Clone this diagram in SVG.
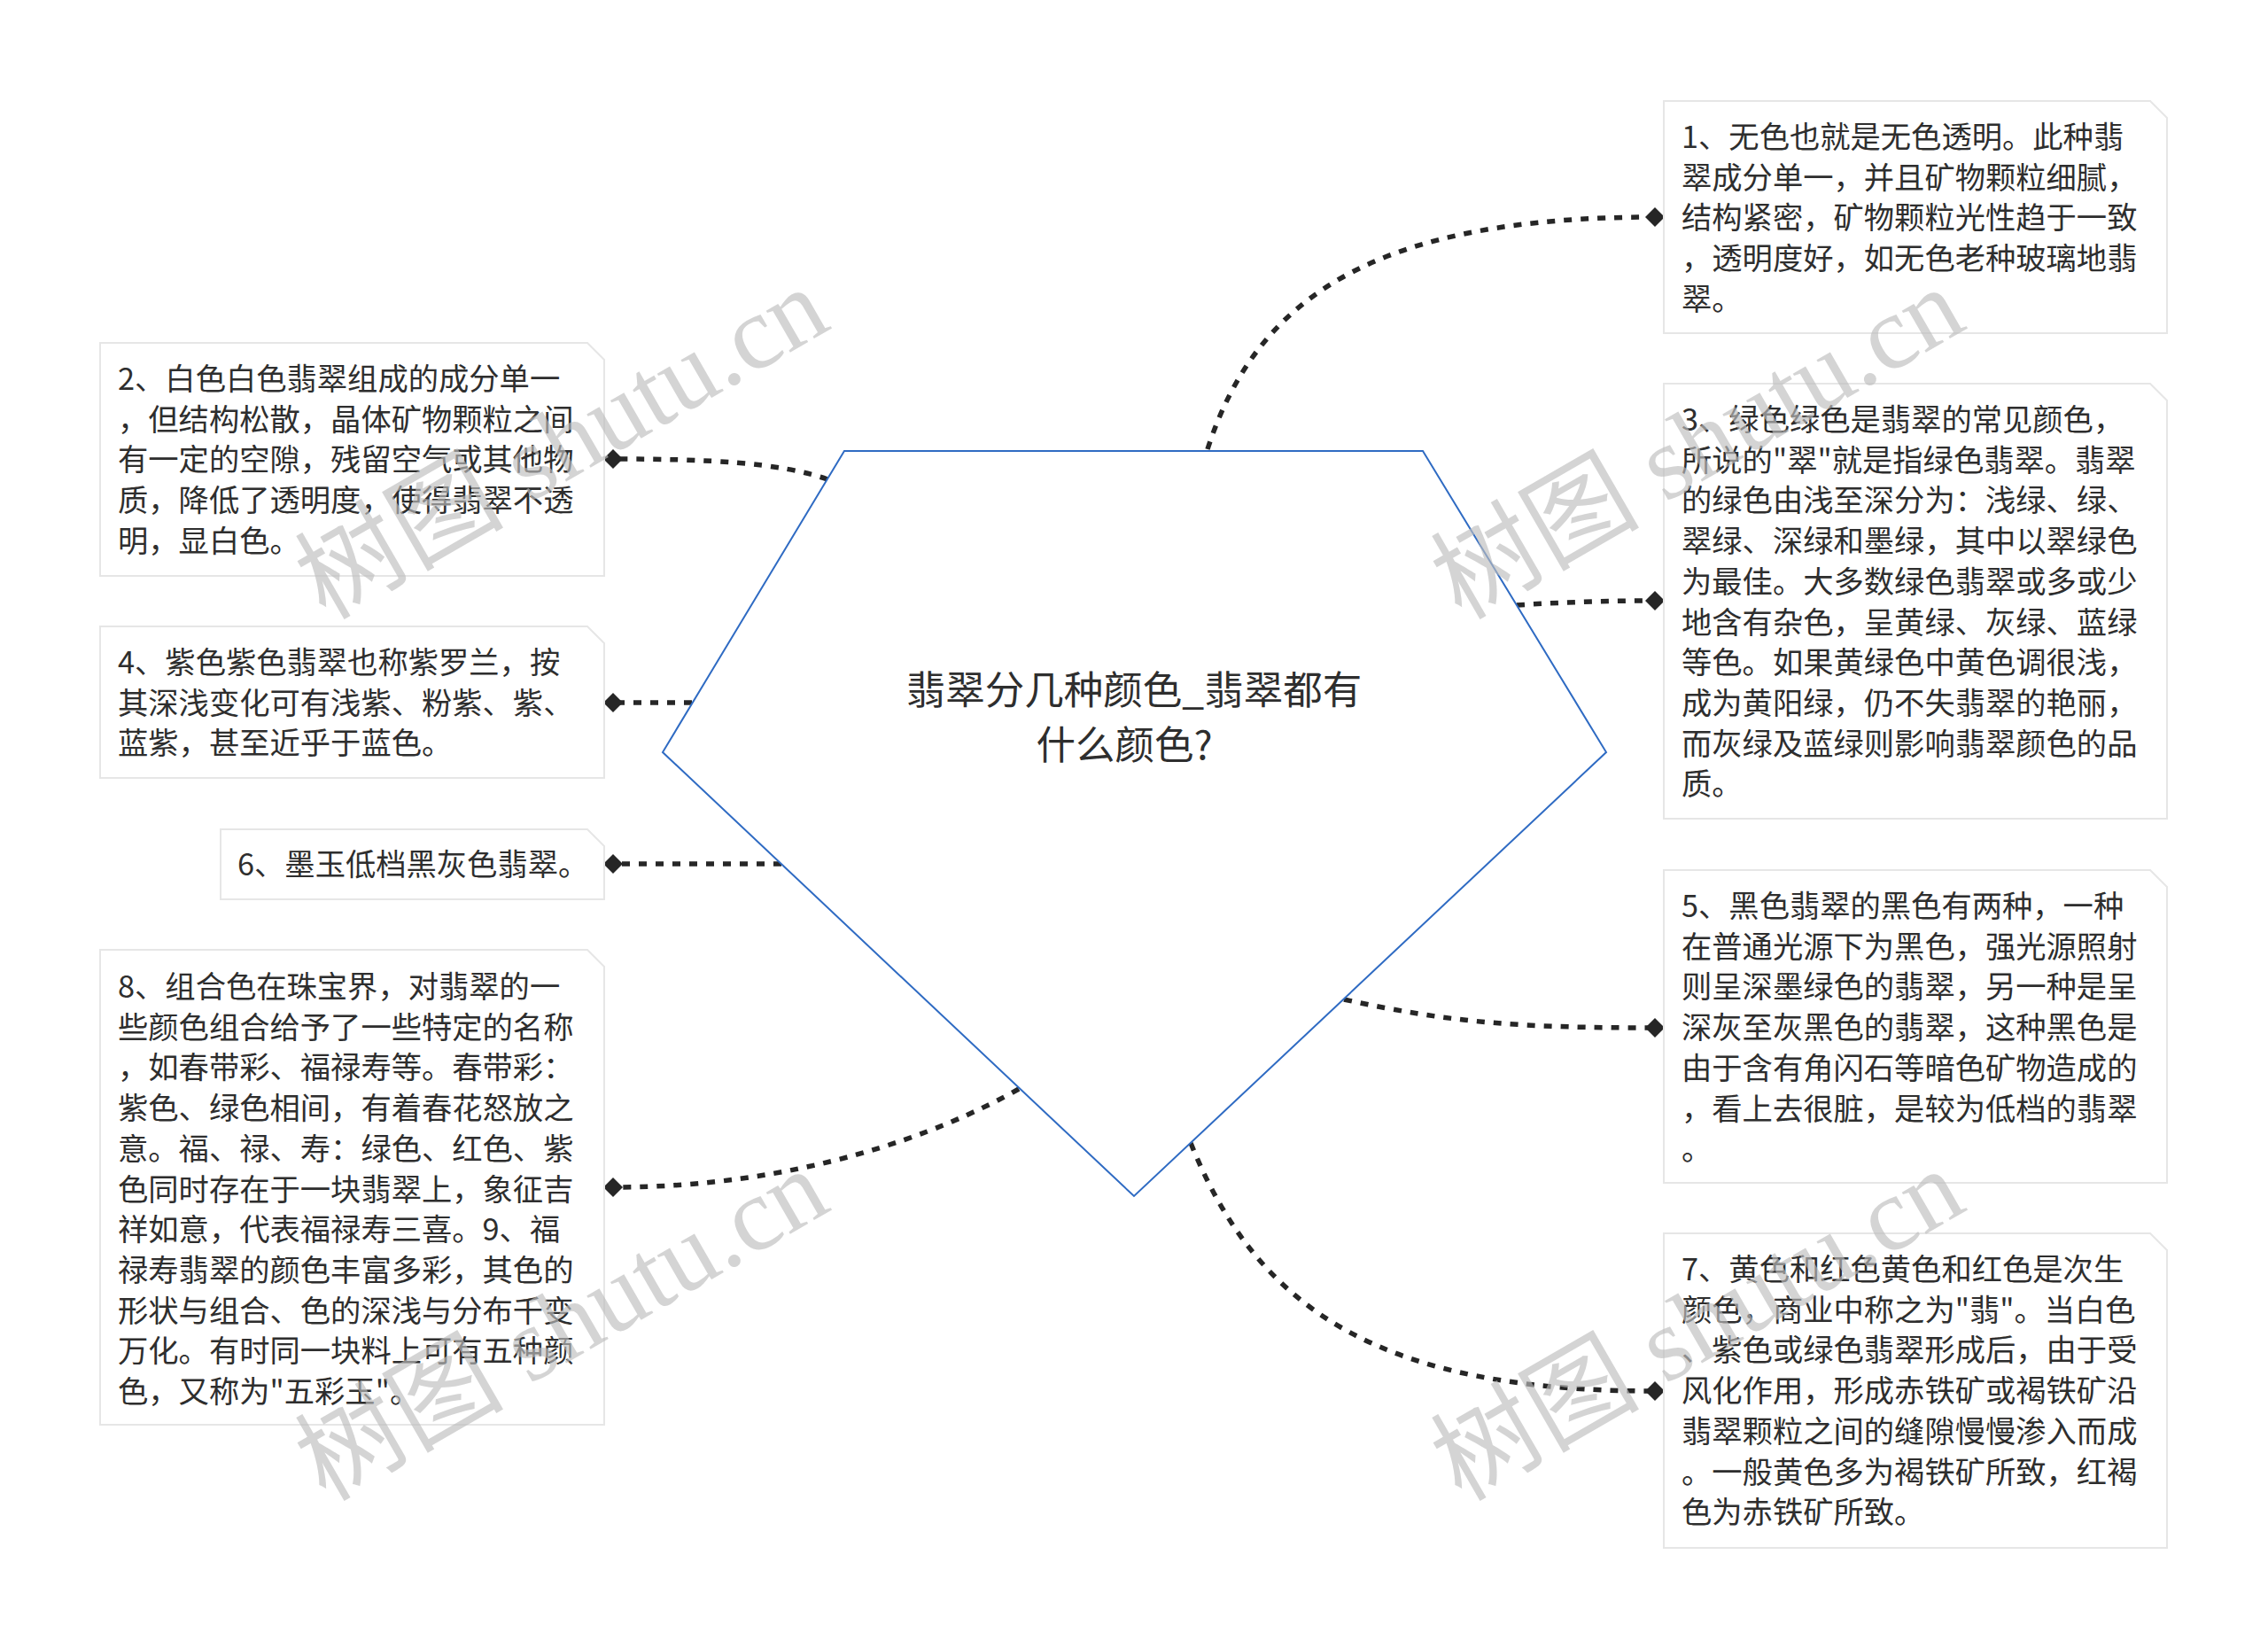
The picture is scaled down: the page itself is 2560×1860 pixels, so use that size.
<svg xmlns="http://www.w3.org/2000/svg" width="2560" height="1860" viewBox="0 0 2560 1860">
<style>
.box{fill:#ffffff;stroke:#e6e6e6;stroke-width:2}
.txt{font-family:"Noto Sans CJK SC","Microsoft YaHei",sans-serif;font-size:34.3px;fill:#2e2e2e}
.ctr{font-family:"Noto Sans CJK SC","Microsoft YaHei",sans-serif;font-size:44.5px;fill:#2e2e2e}
.con{fill:none;stroke:#262626;stroke-width:5.5;stroke-dasharray:9 10;marker-end:url(#dia)}
.wm{font-family:"Liberation Serif","Noto Sans CJK SC",serif;font-size:118px;fill:#bdbdbd;fill-opacity:0.65}
</style>
<defs>
<marker id="dia" viewBox="0 0 22 22" refX="11" refY="11" markerWidth="22" markerHeight="22" markerUnits="userSpaceOnUse">
<path d="M11,0 L22,11 L11,22 L0,11 Z" fill="#262626"/>
</marker>
</defs>
<rect width="2560" height="1860" fill="#ffffff"/>
<g id="connectors">
<path class="con" d="M1363,507 C1420,330 1560,245 1868,245"/>
<path class="con" d="M1712,683 Q1790,678 1868,678"/>
<path class="con" d="M1517,1128 C1640,1155 1720,1160 1868,1160"/>
<path class="con" d="M1344,1290 C1420,1480 1560,1570 1868,1570"/>
<path class="con" d="M934,541 C880,522 800,518 692,518"/>
<path class="con" d="M781,793 L692,793"/>
<path class="con" d="M882,975 L692,975"/>
<path class="con" d="M1150,1229 C1060,1280 900,1340 692,1340"/>
</g>
<g id="center">
<polygon points="953,509 1606,509 1813,849 1280,1350 748,849" fill="#ffffff" stroke="#2f6bc3" stroke-width="2"/>
<text class="ctr" text-anchor="middle"><tspan x="1280" y="795">翡翠分几种颜色_翡翠都有</tspan><tspan x="1269" y="857">什么颜色?</tspan></text>
</g>
<g id="n1">
<path class="box" d="M1878,114 H2427 L2446,133 V376 H1878 Z"/>
<text class="txt" x="1898" y="167"><tspan x="1898">1、无色也就是无色透明。此种翡</tspan><tspan x="1898" dy="45.7">翠成分单一，并且矿物颗粒细腻，</tspan><tspan x="1898" dy="45.7">结构紧密，矿物颗粒光性趋于一致</tspan><tspan x="1898" dy="45.7">，透明度好，如无色老种玻璃地翡</tspan><tspan x="1898" dy="45.7">翠。</tspan></text>
</g>
<g id="n2">
<path class="box" d="M113,387 H663 L682,406 V650 H113 Z"/>
<text class="txt" x="133" y="440"><tspan x="133">2、白色白色翡翠组成的成分单一</tspan><tspan x="133" dy="45.7">，但结构松散，晶体矿物颗粒之间</tspan><tspan x="133" dy="45.7">有一定的空隙，残留空气或其他物</tspan><tspan x="133" dy="45.7">质，降低了透明度，使得翡翠不透</tspan><tspan x="133" dy="45.7">明，显白色。</tspan></text>
</g>
<g id="n3">
<path class="box" d="M1878,433 H2427 L2446,452 V924 H1878 Z"/>
<text class="txt" x="1898" y="486"><tspan x="1898">3、绿色绿色是翡翠的常见颜色，</tspan><tspan x="1898" dy="45.7">所说的"翠"就是指绿色翡翠。翡翠</tspan><tspan x="1898" dy="45.7">的绿色由浅至深分为：浅绿、绿、</tspan><tspan x="1898" dy="45.7">翠绿、深绿和墨绿，其中以翠绿色</tspan><tspan x="1898" dy="45.7">为最佳。大多数绿色翡翠或多或少</tspan><tspan x="1898" dy="45.7">地含有杂色，呈黄绿、灰绿、蓝绿</tspan><tspan x="1898" dy="45.7">等色。如果黄绿色中黄色调很浅，</tspan><tspan x="1898" dy="45.7">成为黄阳绿，仍不失翡翠的艳丽，</tspan><tspan x="1898" dy="45.7">而灰绿及蓝绿则影响翡翠颜色的品</tspan><tspan x="1898" dy="45.7">质。</tspan></text>
</g>
<g id="n4">
<path class="box" d="M113,707 H663 L682,726 V878 H113 Z"/>
<text class="txt" x="133" y="760"><tspan x="133">4、紫色紫色翡翠也称紫罗兰，按</tspan><tspan x="133" dy="45.7">其深浅变化可有浅紫、粉紫、紫、</tspan><tspan x="133" dy="45.7">蓝紫，甚至近乎于蓝色。</tspan></text>
</g>
<g id="n5">
<path class="box" d="M1878,982 H2427 L2446,1001 V1335 H1878 Z"/>
<text class="txt" x="1898" y="1035"><tspan x="1898">5、黑色翡翠的黑色有两种，一种</tspan><tspan x="1898" dy="45.7">在普通光源下为黑色，强光源照射</tspan><tspan x="1898" dy="45.7">则呈深墨绿色的翡翠，另一种是呈</tspan><tspan x="1898" dy="45.7">深灰至灰黑色的翡翠，这种黑色是</tspan><tspan x="1898" dy="45.7">由于含有角闪石等暗色矿物造成的</tspan><tspan x="1898" dy="45.7">，看上去很脏，是较为低档的翡翠</tspan><tspan x="1898" dy="45.7">。</tspan></text>
</g>
<g id="n6">
<path class="box" d="M249,936 H663 L682,955 V1015 H249 Z"/>
<text class="txt" x="268" y="988">6、墨玉低档黑灰色翡翠。</text>
</g>
<g id="n7">
<path class="box" d="M1878,1392 H2427 L2446,1411 V1747 H1878 Z"/>
<text class="txt" x="1898" y="1445"><tspan x="1898">7、黄色和红色黄色和红色是次生</tspan><tspan x="1898" dy="45.7">颜色，商业中称之为"翡"。当白色</tspan><tspan x="1898" dy="45.7">、紫色或绿色翡翠形成后，由于受</tspan><tspan x="1898" dy="45.7">风化作用，形成赤铁矿或褐铁矿沿</tspan><tspan x="1898" dy="45.7">翡翠颗粒之间的缝隙慢慢渗入而成</tspan><tspan x="1898" dy="45.7">。一般黄色多为褐铁矿所致，红褐</tspan><tspan x="1898" dy="45.7">色为赤铁矿所致。</tspan></text>
</g>
<g id="n8">
<path class="box" d="M113,1072 H663 L682,1091 V1608 H113 Z"/>
<text class="txt" x="133" y="1126"><tspan x="133">8、组合色在珠宝界，对翡翠的一</tspan><tspan x="133" dy="45.7">些颜色组合给予了一些特定的名称</tspan><tspan x="133" dy="45.7">，如春带彩、福禄寿等。春带彩：</tspan><tspan x="133" dy="45.7">紫色、绿色相间，有着春花怒放之</tspan><tspan x="133" dy="45.7">意。福、禄、寿：绿色、红色、紫</tspan><tspan x="133" dy="45.7">色同时存在于一块翡翠上，象征吉</tspan><tspan x="133" dy="45.7">祥如意，代表福禄寿三喜。9、福</tspan><tspan x="133" dy="45.7">禄寿翡翠的颜色丰富多彩，其色的</tspan><tspan x="133" dy="45.7">形状与组合、色的深浅与分布千变</tspan><tspan x="133" dy="45.7">万化。有时同一块料上可有五种颜</tspan><tspan x="133" dy="45.7">色，又称为"五彩玉"。</tspan></text>
</g>
<g id="watermarks">
<text class="wm" text-anchor="middle" transform="translate(654,535) rotate(-30)">树图 shutu.cn</text>
<text class="wm" text-anchor="middle" transform="translate(1936,535) rotate(-30)">树图 shutu.cn</text>
<text class="wm" text-anchor="middle" transform="translate(654,1530) rotate(-30)">树图 shutu.cn</text>
<text class="wm" text-anchor="middle" transform="translate(1936,1530) rotate(-30)">树图 shutu.cn</text>
</g>
</svg>
